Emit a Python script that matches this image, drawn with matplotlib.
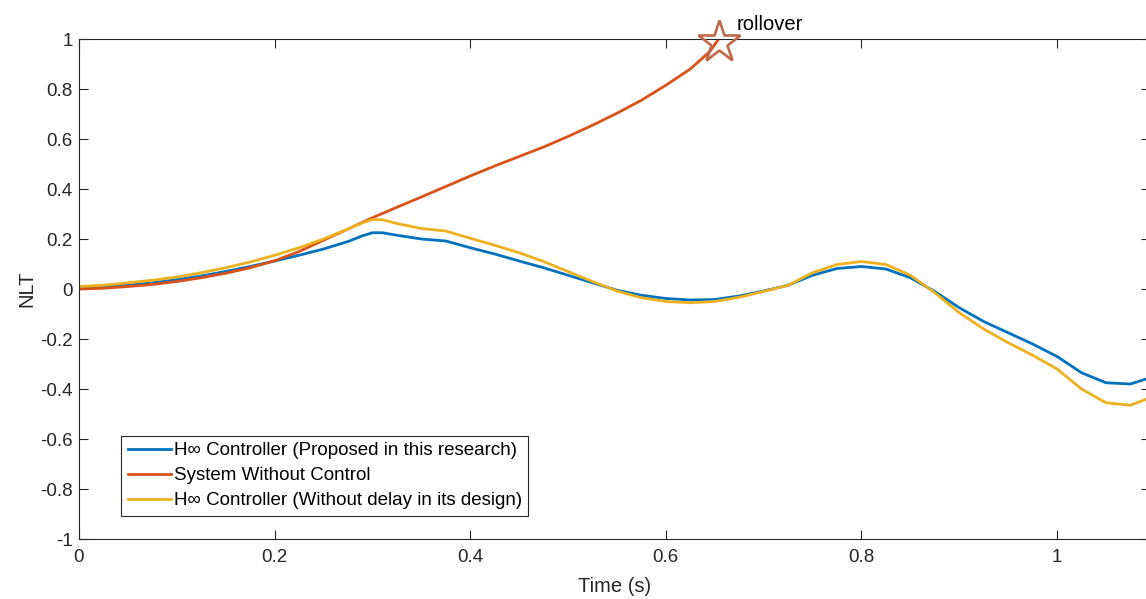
import numpy as np
import matplotlib.pyplot as plt

plt.rcParams['font.family'] = ['Liberation Sans', 'DejaVu Sans']

# NLT response, sampled every 0.025 s
t_ctrl = [0.000, 0.025, 0.050, 0.075, 0.100, 0.125, 0.150, 0.175, 0.200, 0.225,
          0.250, 0.275, 0.290, 0.300, 0.310, 0.325, 0.350, 0.375, 0.400, 0.425,
          0.450, 0.475, 0.500, 0.525, 0.550, 0.575, 0.600, 0.625, 0.650, 0.675,
          0.700, 0.725, 0.750, 0.775, 0.800, 0.825, 0.850, 0.875, 0.900, 0.925,
          0.950, 0.975, 1.000, 1.025, 1.050, 1.075, 1.095]

nlt_hinf = [0.005, 0.008, 0.015, 0.025, 0.037, 0.052, 0.070, 0.090, 0.112, 0.135,
            0.160, 0.190, 0.213, 0.225, 0.225, 0.215, 0.200, 0.192, 0.165, 0.140,
            0.112, 0.085, 0.055, 0.025, -0.005, -0.025, -0.038, -0.044, -0.042, -0.028,
            -0.008, 0.015, 0.055, 0.082, 0.090, 0.080, 0.045, -0.010, -0.075, -0.130,
            -0.175, -0.220, -0.270, -0.335, -0.375, -0.380, -0.355]

nlt_nodelay = [0.010, 0.015, 0.025, 0.035, 0.048, 0.065, 0.085, 0.108, 0.135, 0.165,
               0.200, 0.240, 0.265, 0.278, 0.277, 0.262, 0.242, 0.232, 0.203, 0.175,
               0.145, 0.110, 0.070, 0.030, -0.008, -0.035, -0.050, -0.055, -0.050, -0.033,
               -0.010, 0.015, 0.065, 0.098, 0.110, 0.098, 0.055, -0.015, -0.095, -0.160,
               -0.215, -0.265, -0.320, -0.400, -0.455, -0.465, -0.435]

t_open = [0.000, 0.025, 0.050, 0.075, 0.100, 0.125, 0.150, 0.175, 0.200, 0.225,
          0.250, 0.275, 0.300, 0.325, 0.350, 0.375, 0.400, 0.425, 0.450, 0.475,
          0.500, 0.525, 0.550, 0.575, 0.600, 0.625, 0.645, 0.654]
nlt_open = [0.000, 0.003, 0.010, 0.018, 0.030, 0.045, 0.063, 0.085, 0.113, 0.150,
            0.195, 0.240, 0.285, 0.327, 0.368, 0.410, 0.452, 0.492, 0.530, 0.568,
            0.610, 0.655, 0.703, 0.755, 0.815, 0.880, 0.950, 1.000]

labels = ['H\u221e Controller (Proposed in this research)',
          'System Without Control',
          'H\u221e Controller (Without delay in its design)']

fig = plt.figure(figsize=(11.46, 5.99), dpi=100)
ax = fig.add_axes([79/1146, 60/599, 1071/1146, 500/599])

ax.plot(t_ctrl, nlt_hinf, color='#0072BD', lw=2.0, label=labels[0])
ax.plot(t_open, nlt_open, color='#D95319', lw=2.0, label=labels[1])
ax.plot(t_ctrl, nlt_nodelay, color='#EDB120', lw=2.0, label=labels[2])

# rollover point at the end of the uncontrolled response
ax.plot(t_open[-1], nlt_open[-1] - 0.01, marker='*', ms=32, mfc='none',
        mec='#C0694A', mew=1.9, clip_on=False, zorder=5)
ax.text(0.672, 1.036, 'rollover', fontsize=14.5, color='black', va='baseline')

ax.set_xlim(0, 1.095)
ax.set_ylim(-1, 1)
ax.set_xticks([0, 0.2, 0.4, 0.6, 0.8, 1])
ax.set_xticklabels(['0', '0.2', '0.4', '0.6', '0.8', '1'])
ax.set_yticks(np.round(np.arange(-1, 1.01, 0.2), 1))
ax.set_yticklabels(['-1', '-0.8', '-0.6', '-0.4', '-0.2', '0', '0.2', '0.4', '0.6', '0.8', '1'])

ax.tick_params(direction='in', top=True, right=True, length=6.5, width=0.8,
               colors='#262626', labelsize=13.5)
ax.tick_params(axis='x', pad=7)
ax.tick_params(axis='y', pad=4.5)
for s in ax.spines.values():
    s.set_color('#262626')
    s.set_linewidth(0.8)

ax.set_xlabel('Time (s)', fontsize=14.5, color='#262626', labelpad=8)
ax.set_ylabel('NLT', fontsize=14.5, color='#262626', labelpad=3)

leg = ax.legend(loc='lower left', bbox_to_anchor=(42/1071, 23/500), borderaxespad=0,
                fontsize=13.5, fancybox=False, framealpha=1, edgecolor='#262626',
                handlelength=2.3, handletextpad=0.15, labelspacing=0.42,
                borderpad=0.35)
leg.get_frame().set_linewidth(0.8)

fig.savefig('out.png', dpi=100)
